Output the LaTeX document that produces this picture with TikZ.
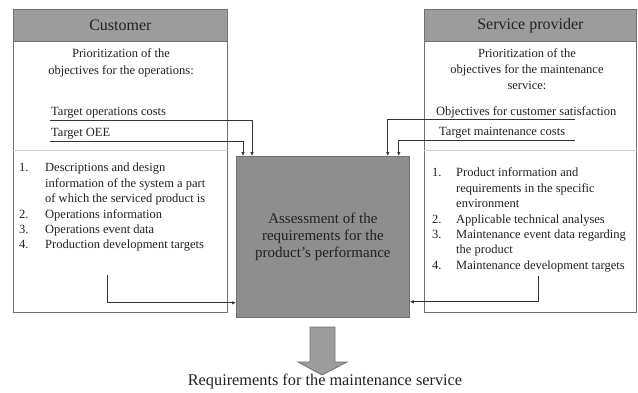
\documentclass[tikz,border=0pt]{standalone}
\usepackage{fontspec}
\setmainfont{Liberation Serif}
\usetikzlibrary{arrows.meta}

\definecolor{headgray}{HTML}{9C9C9C}
\definecolor{coregray}{HTML}{8E8E8E}
\definecolor{framegray}{HTML}{707070}
\definecolor{inkgray}{HTML}{333333}
\definecolor{rulegray}{HTML}{CFCFCF}
\definecolor{textgray}{HTML}{222222}

\begin{document}
\begin{tikzpicture}[x=1pt,y=-1pt,
  panel/.style={draw=framegray, line width=0.8pt, fill=white, anchor=north west,
                minimum width=214pt, minimum height=303pt, inner sep=0pt},
  head/.style={draw=framegray, line width=0.8pt, fill=headgray, anchor=north west,
               minimum width=214pt, minimum height=32pt, inner sep=0pt,
               font=\fontsize{16}{19}\selectfont, text=textgray},
  core/.style={draw=framegray, line width=0.8pt, fill=coregray, anchor=north west,
               minimum width=173pt, minimum height=161pt, inner sep=0pt, align=center,
               font=\fontsize{15}{17}\selectfont, text=textgray},
  body/.style={font=\fontsize{12.5}{15.4}\selectfont, text=textgray, inner sep=0pt},
  feed/.style={draw=inkgray, line width=0.7pt, -{Latex[length=4pt,width=3.5pt]}},
  divider/.style={draw=rulegray, line width=0.8pt},
  outarrow/.style={draw=framegray, line width=0.8pt, fill=headgray}
]
\useasboundingbox (0,0) rectangle (638,392);
\fill[white] (0,0) rectangle (638,392);

% ---- customer panel ----
\node[panel] (cust) at (13,9) {};
\node[head] (custhead) at (13,9) {Customer};
\draw[divider] ([yshift=-141pt]cust.north west) -- ([yshift=-141pt]cust.north east);
\node[body, align=center, font=\fontsize{12.5}{17}\selectfont] (cprio) at (121,63)
  {Prioritization of the\\objectives for the operations:};
\node[body, anchor=base west] (ccost) at (51,115) {Target operations costs};
\node[body, anchor=base west] (coee) at (51,136) {Target OEE};
\coordinate (ccoststart) at (50,120);
\coordinate (coeestart) at (50,141);
\node[body, anchor=north west] (clist) at (19,161) {%
  \begin{tabular}{@{}p{26pt}@{}p{180pt}@{}}
  1. & Descriptions and design\newline information of the system a part\newline of which the serviced product is\\
  2. & Operations information\\
  3. & Operations event data\\
  4. & Production development targets
  \end{tabular}};
\coordinate (cfeed) at (107,275);

% ---- service provider panel ----
\node[panel, minimum width=212pt] (prov) at (424,9) {};
\node[head, minimum width=212pt] (provhead) at (424,9) {Service provider};
\draw[divider] ([yshift=-141pt]prov.north west) -- ([yshift=-141pt]prov.north east);
\node[body, align=center, font=\fontsize{12.5}{16}\selectfont] (pprio) at (527,69)
  {Prioritization of the\\objectives for the maintenance\\service:};
\node[body, anchor=base west] (psat) at (436,115) {Objectives for customer satisfaction};
\node[body, anchor=base west] (pcost) at (439,135) {Target maintenance costs};
\coordinate (psatstart) at (575,119);
\coordinate (pcoststart) at (575,140);
\node[body, anchor=north west] (plist) at (432,166) {%
  \begin{tabular}{@{}p{24pt}@{}p{178pt}@{}}
  1. & Product information and\newline requirements in the specific\newline environment\\
  2. & Applicable technical analyses\\
  3. & Maintenance event data regarding\newline the product\\
  4. & Maintenance development targets
  \end{tabular}};
\coordinate (pfeed) at (538,276);

% ---- assessment box ----
\node[core] (assess) at (236,156) {Assessment of the\\requirements for the\\product's performance};

% ---- connectors into the assessment ----
\draw[feed] (ccoststart) -| ([xshift=16pt]assess.north west);
\draw[feed] (coeestart) -| ([xshift=7pt]assess.north west);
\draw[feed] (psatstart) -| ([xshift=-22pt]assess.north east);
\draw[feed] (pcoststart) -| ([xshift=-11pt]assess.north east);
\draw[feed] (cfeed) |- ([yshift=15pt]assess.south west);
\draw[feed] (pfeed) |- ([yshift=16pt]assess.south east);

% ---- output arrow and result ----
\draw[outarrow] (310,327) -- (335,327) -- (335,362) -- (347,362) -- (322,375)
  -- (298,362) -- (310,362) -- cycle;
\node[font=\fontsize{16.3}{19}\selectfont, text=textgray] (req) at (325,381)
  {Requirements for the maintenance service};
\end{tikzpicture}
\end{document}
